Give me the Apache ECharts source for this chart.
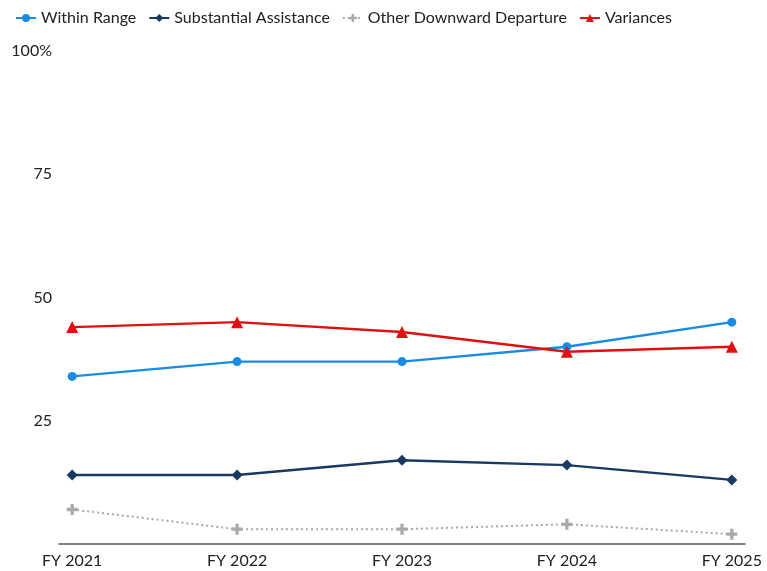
<!DOCTYPE html>
<html>
<head>
<meta charset="utf-8">
<script src="https://cdn.jsdelivr.net/npm/echarts@6/dist/echarts.min.js"></script>
<style>
  html, body { margin: 0; padding: 0; background: #fff; }
  #chart { width: 767px; height: 571px; }
</style>
</head>
<body>
<div id="chart"></div>
<script>
var categories = ['FY 2021', 'FY 2022', 'FY 2023', 'FY 2024', 'FY 2025'];
var withinRange = [34, 37, 37, 40, 45];
var substantialAssistance = [14, 14, 17, 16, 13];
var otherDownward = [7, 3, 3, 4, 2];
var variances = [44, 45, 43, 39, 40];
var yTicks = [25, 50, 75, 100];

var plusPath = 'path://M3.5,0 L6.5,0 L6.5,3.5 L10,3.5 L10,6.5 L6.5,6.5 L6.5,10 L3.5,10 L3.5,6.5 L0,6.5 L0,3.5 L3.5,3.5 Z';

function pairs(arr) {
  return arr.map(function (v, i) { return [i, v]; });
}

var chart = echarts.init(document.getElementById('chart'));
var font = 'Lato, "Open Sans", sans-serif';

var option = {
  animation: false,
  textStyle: { fontFamily: font },
  legend: {
    left: 10,
    top: 5,
    itemWidth: 20,
    itemHeight: 10,
    itemGap: 12,
    textStyle: { fontSize: 16, color: '#222', fontFamily: font },
    data: ['Within Range', 'Substantial Assistance', 'Other Downward Departure', 'Variances']
  },
  grid: { left: 59, right: 22, top: 51, bottom: 27 },
  xAxis: {
    type: 'value',
    min: -0.08,
    max: 4.08,
    splitLine: { show: false },
    axisLine: { show: true, lineStyle: { color: '#555', width: 1.5 } },
    axisTick: { show: false },
    axisLabel: {
      customValues: [0, 1, 2, 3, 4],
      fontSize: 16,
      color: '#222',
      margin: 9,
      formatter: function (v) { return categories[Math.round(v)]; }
    }
  },
  yAxis: {
    type: 'value',
    min: 0,
    max: 100,
    interval: 25,
    splitLine: { show: false },
    axisLine: { show: false },
    axisTick: { show: false },
    axisLabel: {
      fontSize: 16,
      color: '#222',
      margin: 7,
      formatter: function (v) {
        if (yTicks.indexOf(v) < 0) return '';
        return v === 100 ? '100%' : String(v);
      }
    }
  },
  series: [
    {
      name: 'Within Range',
      type: 'line',
      data: pairs(withinRange),
      color: '#1a8be3',
      symbol: 'circle',
      symbolSize: 9,
      lineStyle: { width: 2.4 }
    },
    {
      name: 'Substantial Assistance',
      type: 'line',
      data: pairs(substantialAssistance),
      color: '#173a63',
      symbol: 'diamond',
      symbolSize: 11,
      lineStyle: { width: 2.4 }
    },
    {
      name: 'Other Downward Departure',
      type: 'line',
      data: pairs(otherDownward),
      color: '#aaaaaa',
      symbol: plusPath,
      symbolSize: 11,
      lineStyle: { width: 2, type: [2, 3] }
    },
    {
      name: 'Variances',
      type: 'line',
      data: pairs(variances),
      color: '#e01010',
      symbol: 'triangle',
      symbolSize: 12,
      lineStyle: { width: 2.4 }
    }
  ]
};

chart.setOption(option);
</script>
</body>
</html>
